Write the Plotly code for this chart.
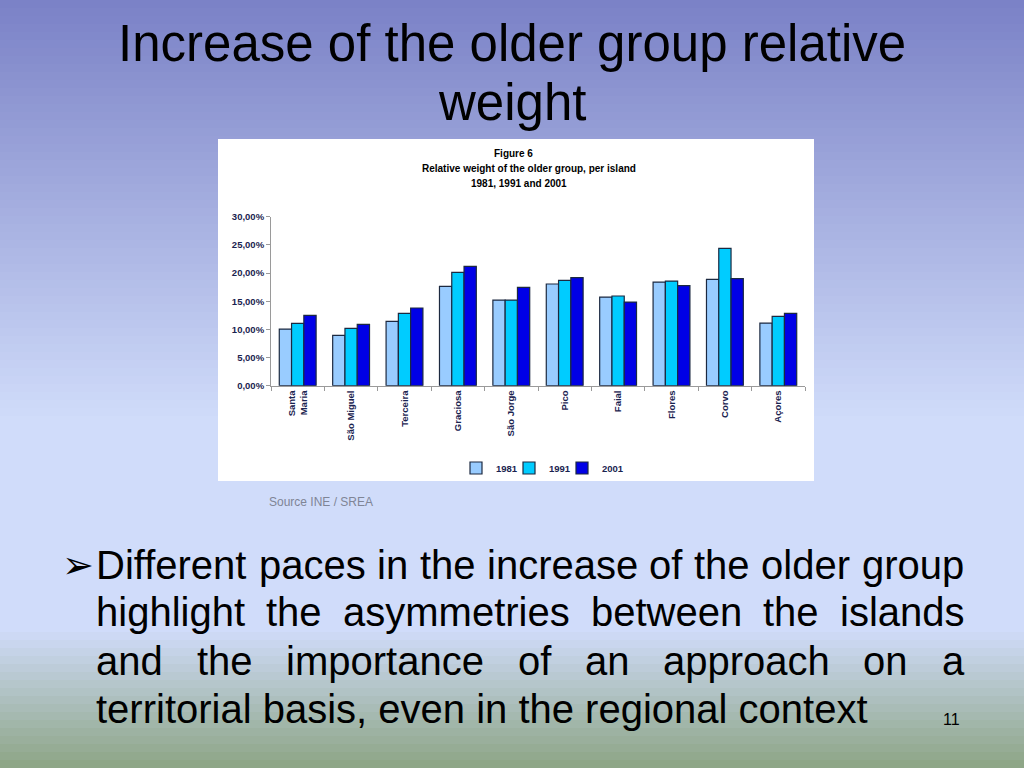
import plotly.graph_objects as go

# ---------------- data ----------------
islands = ["Santa<br>Maria", "São Miguel", "Terceira", "Graciosa", "São Jorge",
           "Pico", "Faial", "Flores", "Corvo", "Açores"]
years = ["1981", "1991", "2001"]
v1981 = [0.1006, 0.0893, 0.1142, 0.1763, 0.1520, 0.1805, 0.1574, 0.1840, 0.1888, 0.1112]
v1991 = [0.1107, 0.1018, 0.1284, 0.2012, 0.1520, 0.1870, 0.1592, 0.1858, 0.2438, 0.1231]
v2001 = [0.1249, 0.1089, 0.1379, 0.2118, 0.1746, 0.1917, 0.1485, 0.1775, 0.1899, 0.1284]
yticks = [0, 0.05, 0.10, 0.15, 0.20, 0.25, 0.30]
bar_colors = ["#99CCFF", "#00CCFF", "#0000E6"]

W, H = 1024, 768
def px(x):
    return x / W
def py(y):
    return 1 - y / H

FONT = "Liberation Sans, Arial, sans-serif"
NAVY = "#1a2350"

legend_ids = ["legend", "legend2", "legend3"]
legend_left = [456, 509, 562]   # pixel x of each legend box

fig = go.Figure()
for name, vals, col, lg in zip(years, [v1981, v1991, v2001], bar_colors, legend_ids):
    fig.add_trace(go.Bar(
        x=islands, y=vals, name="<b>%s</b>" % name, legend=lg,
        marker=dict(color=col, line=dict(color="#1c2940", width=1.2)),
    ))

# ---------------- background gradient ----------------
stops = [(0, (122, 129, 198)), (420, (208, 220, 250)), (630, (208, 220, 250)), (768, (140, 164, 132))]
def grad(y):
    for (y0, c0), (y1, c1) in zip(stops[:-1], stops[1:]):
        if y0 <= y <= y1:
            t = (y - y0) / (y1 - y0) if y1 > y0 else 0
            return "rgb(%d,%d,%d)" % tuple(round(a + (b - a) * t) for a, b in zip(c0, c1))
    return "rgb(%d,%d,%d)" % stops[-1][1]

shapes = []
N = 96
for i in range(N):
    y0 = i * H / N
    y1 = min(H, (i + 1) * H / N + 1)
    shapes.append(dict(type="rect", xref="paper", yref="paper", layer="below",
                       x0=0, x1=1, y0=py(y1), y1=py(y0),
                       fillcolor=grad((y0 + y1) / 2), line=dict(width=0)))
# white chart box
shapes.append(dict(type="rect", xref="paper", yref="paper", layer="below",
                   x0=px(218), x1=px(814), y0=py(481), y1=py(139),
                   fillcolor="white", line=dict(width=0)))

# ---------------- texts ----------------
ann = []
def text(x, y, s, size, color="black", xanchor="center", bold=False, family=FONT):
    if bold:
        s = "<b>" + s + "</b>"
    ann.append(dict(x=px(x), y=py(y), xref="paper", yref="paper", text=s, showarrow=False,
                    xanchor=xanchor, yanchor="middle",
                    font=dict(size=size, color=color, family=family)))

text(512, 44, "Increase of the older group relative", 51)
text(512, 102, "weight", 51)

text(513, 153, "Figure 6", 10, bold=True)
text(529, 168, "Relative weight of the older group, per island", 10, bold=True)
text(519, 183, "1981, 1991 and 2001", 10, bold=True)

text(267, 502, "Source INE / SREA", 12, color="#7f8596", xanchor="left")

# justified bullet paragraph (Arial metrics, per 1000 em)
AW = {' ': 278, ',': 278, 'D': 722, 'a': 556, 'b': 556, 'c': 500, 'd': 556, 'e': 556, 'f': 278,
      'g': 556, 'h': 556, 'i': 222, 'l': 222, 'm': 833, 'n': 556, 'o': 556, 'p': 556, 'r': 333,
      's': 500, 't': 278, 'u': 556, 'v': 500, 'w': 722, 'x': 500, 'y': 500}
BS = 40
LEFT, RIGHT = 95, 963
lines = ["Different paces in the increase of the older group",
         "highlight the asymmetries between the islands",
         "and the importance of an approach on a",
         "territorial basis, even in the regional context"]
line_y = [565, 612, 661, 709]
def wwidth(w):
    return sum(AW.get(c, 556) for c in w) / 1000 * BS
for k, (ln, yy) in enumerate(zip(lines, line_y)):
    if k == len(lines) - 1:
        text(LEFT - 1, yy, ln, BS, xanchor="left")
        continue
    words = ln.split(" ")
    total = sum(wwidth(w) for w in words)
    gap = (RIGHT - LEFT - total) / (len(words) - 1)
    xx = LEFT
    for w in words:
        text(xx - 1, yy, w, BS, xanchor="left")
        xx += wwidth(w) + gap
text(60, 565, "➢", 38, xanchor="left", family="DejaVu Sans")
text(951, 719, "11", 16)

legend_style = dict(orientation="h", xanchor="left", yanchor="middle", y=py(468),
                    font=dict(size=9.5, color=NAVY, family=FONT), bgcolor="rgba(0,0,0,0)",
                    itemwidth=30)

fig.update_layout(
    width=W, height=H,
    margin=dict(l=0, r=0, t=0, b=0, autoexpand=False),
    paper_bgcolor="rgb(122,129,198)", plot_bgcolor="rgba(0,0,0,0)",
    barmode="group", bargap=0.31, bargroupgap=0,
    shapes=shapes, annotations=ann,
    font=dict(family=FONT, color=NAVY),
    showlegend=True,
    legend=dict(x=px(legend_left[0]), **legend_style),
    legend2=dict(x=px(legend_left[1]), **legend_style),
    legend3=dict(x=px(legend_left[2]), **legend_style),
    xaxis=dict(domain=[px(271), px(805)], showline=True, linecolor="#9a9a9a", linewidth=1,
               ticks="outside", tickson="boundaries", ticklen=4, tickcolor="#9a9a9a",
               tickangle=-90, tickfont=dict(size=9.5, color=NAVY, family=FONT),
               tickvals=islands, ticktext=["<b>%s</b>" % s for s in islands],
               showgrid=False, zeroline=False, fixedrange=True),
    yaxis=dict(domain=[py(385.7), py(216.7)], range=[0, 0.30], tickvals=yticks,
               ticktext=["<b>%s</b>" % ("%.2f%%" % (v * 100)).replace(".", ",") for v in yticks],
               showline=True, linecolor="#9a9a9a", linewidth=1,
               ticks="outside", ticklen=4, tickcolor="#9a9a9a",
               tickfont=dict(size=9.5, color=NAVY, family=FONT),
               showgrid=False, zeroline=False, fixedrange=True),
)

fig.write_html(
    "out.html", config={"displayModeBar": False},
    post_script=("document.body.style.margin='0';document.body.style.overflow='hidden';"
                 "document.body.style.background='rgb(122,129,198)';"
                 "var d=document.getElementById('{plot_id}');d.style.position='absolute';"
                 "d.style.top='0px';d.style.left='0px';"))
